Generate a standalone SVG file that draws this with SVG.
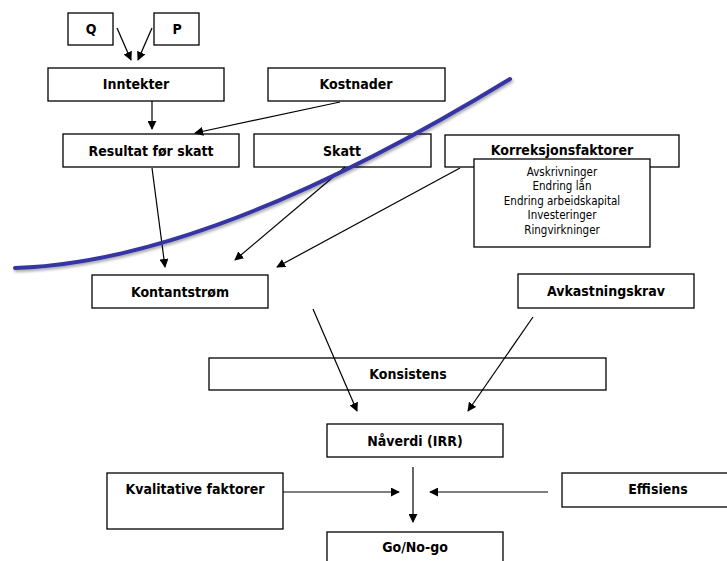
<svg xmlns="http://www.w3.org/2000/svg" width="727" height="561" viewBox="0 0 727 561">
<defs>
<marker id="ah" viewBox="0 0 10 10" refX="9" refY="5" markerWidth="9" markerHeight="9" markerUnits="userSpaceOnUse" orient="auto">
<path d="M0,0 L10,5 L0,10 z" fill="#000"/>
</marker>
<filter id="sh" x="-10%" y="-10%" width="120%" height="130%">
<feGaussianBlur in="SourceAlpha" stdDeviation="1.5"/>
<feOffset dx="1" dy="2"/>
<feComponentTransfer><feFuncA type="linear" slope="0.35"/></feComponentTransfer>
<feMerge><feMergeNode/><feMergeNode in="SourceGraphic"/></feMerge>
</filter>
</defs>
<style>
.box{fill:#fff;stroke:#000;stroke-width:1.3}
.t{font-family:"DejaVu Sans Condensed","DejaVu Sans",sans-serif;font-weight:bold;font-size:14px;text-anchor:middle;fill:#000}
.s{font-family:"DejaVu Sans Condensed","DejaVu Sans",sans-serif;font-size:11.5px;text-anchor:middle;fill:#000}
.c{stroke:#000;stroke-width:1.2;fill:none;marker-end:url(#ah)}
</style>
<rect width="727" height="561" fill="#fff"/>
<g id="node-q"><rect class="box" x="68" y="13" width="45" height="32"/><text class="t" x="91" y="34">Q</text></g>
<g id="node-p"><rect class="box" x="154" y="13" width="45" height="32"/><text class="t" x="177" y="34">P</text></g>
<g id="node-inntekter"><rect class="box" x="48" y="68" width="176" height="33"/><text class="t" x="136" y="89">Inntekter</text></g>
<g id="node-kostnader"><rect class="box" x="268" y="68" width="177" height="33"/><text class="t" x="356" y="89">Kostnader</text></g>
<g id="node-resultat"><rect class="box" x="63" y="134" width="176" height="33"/><text class="t" x="151" y="156">Resultat før skatt</text></g>
<g id="node-skatt"><rect class="box" x="254" y="134" width="177" height="33"/><text class="t" x="342" y="156">Skatt</text></g>
<g id="node-korreksjon"><rect class="box" x="445" y="135" width="234" height="32"/><text class="t" x="562" y="155">Korreksjonsfaktorer</text></g>
<g id="node-korreksjon-liste"><rect class="box" x="474" y="159" width="176" height="88"/>
<text class="s" x="562" y="176">Avskrivninger</text>
<text class="s" x="562" y="190">Endring lån</text>
<text class="s" x="562" y="205">Endring arbeidskapital</text>
<text class="s" x="562" y="219">Investeringer</text>
<text class="s" x="562" y="234">Ringvirkninger</text>
</g>
<g id="node-kontantstrom"><rect class="box" x="92" y="275" width="176" height="33"/><text class="t" x="180" y="297">Kontantstrøm</text></g>
<g id="node-avkastningskrav"><rect class="box" x="518" y="274" width="176" height="34"/><text class="t" x="606" y="296">Avkastningskrav</text></g>
<g id="node-konsistens"><rect class="box" x="209" y="358" width="397" height="32"/><text class="t" x="408" y="379">Konsistens</text></g>
<g id="node-naverdi"><rect class="box" x="327" y="424" width="176" height="33"/><text class="t" x="415" y="446">Nåverdi (IRR)</text></g>
<g id="node-kvalitative"><rect class="box" x="107" y="473" width="176" height="56"/><text class="t" x="195" y="494">Kvalitative faktorer</text></g>
<g id="node-effisiens"><rect class="box" x="562" y="473" width="170" height="34"/><text class="t" x="658" y="494">Effisiens</text></g>
<g id="node-gonogo"><rect class="box" x="327" y="532" width="176" height="40"/><text class="t" x="415" y="552">Go/No-go</text></g>
<g id="connectors">
<line class="c" x1="117" y1="28" x2="131" y2="60"/>
<line class="c" x1="152" y1="28" x2="138" y2="60"/>
<line class="c" x1="152" y1="101" x2="152" y2="129"/>
<line class="c" x1="340" y1="102" x2="195" y2="133"/>
<line class="c" x1="152" y1="168" x2="165" y2="267"/>
<line class="c" x1="345" y1="167" x2="235" y2="260"/>
<line class="c" x1="460" y1="168" x2="277" y2="267"/>
<line class="c" x1="313" y1="309" x2="357" y2="411"/>
<line class="c" x1="533" y1="317" x2="468" y2="411"/>
<line class="c" x1="413" y1="467" x2="413" y2="522"/>
<line class="c" x1="283" y1="492" x2="399" y2="492"/>
<line class="c" x1="548" y1="492" x2="430" y2="492"/>
</g>
<path d="M15,268 Q210,262 510,79" fill="none" stroke="#3434a4" stroke-width="4" stroke-linecap="round" filter="url(#sh)"/>
</svg>
